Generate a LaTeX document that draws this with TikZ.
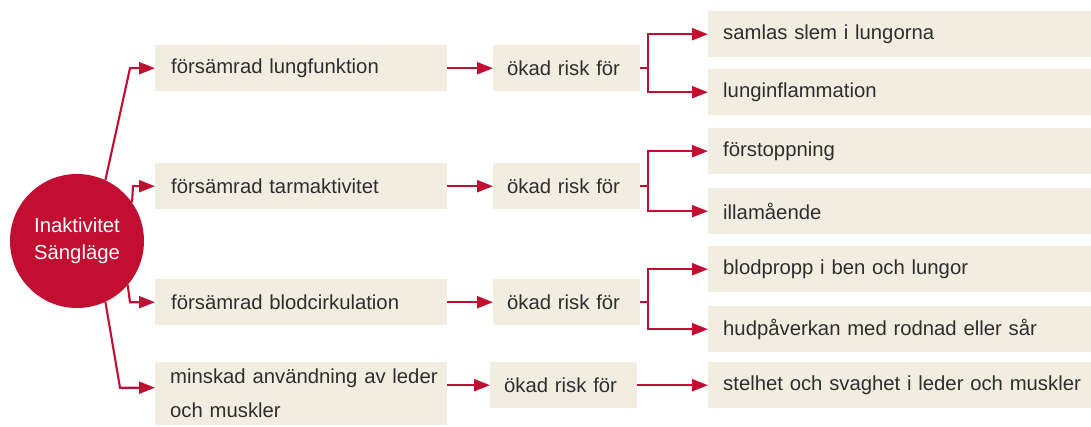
\documentclass[tikz,border=0pt]{standalone}
\usepackage{fontspec}
\setmainfont{Liberation Sans}
\usetikzlibrary{arrows.meta}
\definecolor{redc}{HTML}{C20E30}
\definecolor{beige}{HTML}{F1EDE0}
\definecolor{txt}{HTML}{2E2E2E}
\tikzset{
  box/.style={fill=beige, anchor=north west, inner ysep=0pt, align=left, text=txt,
    font=\fontsize{20.3}{34}\selectfont, minimum height=46pt},
  cone/.style={box, inner xsep=16pt, text width=260pt},
  ctwo/.style={box, inner xsep=14pt, text width=119pt},
  cthree/.style={box, inner xsep=15pt, text width=353pt},
  conn/.style={draw=redc, line width=2.1pt, -{Triangle[length=16pt,width=12pt]}},
}
\begin{document}
\begin{tikzpicture}[x=1pt,y=-1pt]
\useasboundingbox (0,0) rectangle (1091,427);

% source circle
\node[circle, fill=redc, minimum size=134pt, inner sep=0pt, text=white, align=center,
  font=\fontsize{20.3}{30}\selectfont] (src) at (77,241) {\raisebox{-3pt}{Inaktivitet}\\Sängläge};

% column 1
\node[cone] (a1) at (155,45) {försämrad lungfunktion};
\node[cone] (a2) at (155,163) {försämrad tarmaktivitet};
\node[cone] (a3) at (155,279) {försämrad blodcirkulation};
\node[box, inner xsep=15pt, text width=262pt, minimum height=63pt] (a4) at (155,362)
  {\mbox{minskad användning av leder}\\och muskler};

% column 2
\node[ctwo] (b1) at (493,45) {ökad risk för};
\node[ctwo] (b2) at (493,163) {ökad risk för};
\node[ctwo] (b3) at (493,279) {ökad risk för};
\node[ctwo] (b4) at (490,362) {ökad risk för};

% column 3
\node[cthree] (c1a) at (708,11) {samlas slem i lungorna};
\node[cthree] (c1b) at (708,69) {lunginflammation};
\node[cthree] (c2a) at (708,128) {förstoppning};
\node[cthree] (c2b) at (708,188) {illamående};
\node[cthree] (c3a) at (708,246) {blodpropp i ben och lungor};
\node[cthree] (c3b) at (708,306) {hudpåverkan med rodnad eller sår};
\node[cthree] (c4) at (708,362) {\mbox{stelhet och svaghet i leder och muskler}};

% circle to column 1
\draw[conn] (src.65) -- ([xshift=-25pt]a1.west) -- (a1.west);
\draw[conn] (src.35) -- ([xshift=-22pt]a2.west) -- (a2.west);
\draw[conn] (src.-41) -- ([xshift=-25pt]a3.west) -- (a3.west);
\draw[conn] (src.-65) -- ([xshift=-35pt,yshift=6pt]a4.west) -- ([yshift=6pt]a4.west);

% column 1 to column 2
\draw[conn] (a1) -- (b1);
\draw[conn] (a2) -- (b2);
\draw[conn] (a3) -- (b3);
\draw[conn] (a4.east |- b4) -- (b4.west);

% forks to column 3
\draw[conn] (b1.east) -- ([xshift=8pt]b1.east) |- (c1a.west);
\draw[conn] (b1.east) -- ([xshift=8pt]b1.east) |- (c1b.west);
\draw[conn] (b2.east) -- ([xshift=8pt]b2.east) |- (c2a.west);
\draw[conn] (b2.east) -- ([xshift=8pt]b2.east) |- (c2b.west);
\draw[conn] (b3.east) -- ([xshift=8pt]b3.east) |- (c3a.west);
\draw[conn] (b3.east) -- ([xshift=8pt]b3.east) |- (c3b.west);
\draw[conn] (b4) -- (c4);
\end{tikzpicture}
\end{document}
